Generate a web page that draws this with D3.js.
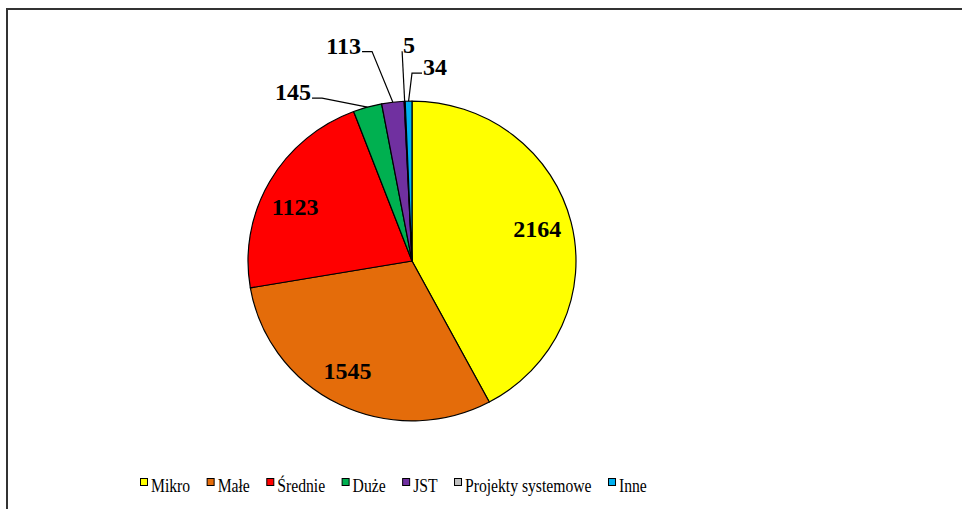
<!DOCTYPE html>
<html>
<head>
<meta charset="utf-8">
<script src="https://cdn.jsdelivr.net/npm/d3@7"></script>
<style>
    body { margin: 0; background: #fff; }
    svg { display: block; }
</style>
</head>
<body>
<div id="chart"></div>
<script>
// Data
const categories = ['Mikro', 'Małe', 'Średnie', 'Duże', 'JST', 'Projekty systemowe', 'Inne'];
const values = [2164, 1545, 1123, 145, 113, 5, 34];
const colors = ['#FFFF00', '#E46C0A', '#FF0000', '#00B050', '#7030A0', '#C0C0C0', '#00B0F0'];

// Label placement: inside labels get a small angle nudge (degrees),
// small slices get leader lines.
// elbow = [angle in degrees from 12 o'clock, radius factor], side = -1 left / 0 none / 1 right
const insideNudge = { 'Mikro': -0.7, 'Małe': 3.8, 'Średnie': -4.2 };
const outsideLabels = {
    'Duże': { elbow: [-28.9, 1.135], side: -1 },
    'JST': { elbow: [-10.8, 1.30], side: -1 },
    'Projekty systemowe': { elbow: [-2.7, 1.28], side: 0 },
    'Inne': { elbow: [0, 1.146], side: 1 }
};

const width = 962, height = 509;
const cx = 412, cy = 261, r = 164, yScale = 0.975;
const FONT = "'Liberation Serif', 'Times New Roman', serif";

const svg = d3.select('#chart').append('svg')
    .attr('width', width)
    .attr('height', height);

// Chart frame (clipped at right and bottom in the reference)
svg.append('rect')
    .attr('x', 7).attr('y', 9)
    .attr('width', 1000).attr('height', 600)
    .attr('fill', 'none')
    .attr('stroke', '#333')
    .attr('stroke-width', 2);

const data = categories.map((c, i) => ({ name: c, value: values[i], color: colors[i] }));

const pie = d3.pie().sort(null).value(d => d.value);
const arcs = pie(data);
const arc = d3.arc().innerRadius(0).outerRadius(r);

const g = svg.append('g')
    .attr('transform', `translate(${cx},${cy}) scale(1,${yScale})`);

g.selectAll('path')
    .data(arcs)
    .join('path')
    .attr('d', arc)
    .attr('fill', d => d.data.color)
    .attr('stroke', '#000')
    .attr('stroke-width', 1.2)
    .attr('stroke-linejoin', 'round');

// Point helper (angle from top, clockwise)
const pt = (a, rad, sy) => [cx + rad * Math.sin(a), cy - rad * Math.cos(a) * sy];
const deg = Math.PI / 180;

function valueText(x, y, anchor, txt) {
    return svg.append('text')
        .attr('x', x).attr('y', y)
        .attr('text-anchor', anchor)
        .style('font-family', FONT)
        .style('font-weight', 'bold')
        .style('font-size', '24px')
        .attr('fill', '#000')
        .text(txt);
}

// Inside labels
arcs.filter(d => !outsideLabels[d.data.name]).forEach(d => {
    const mid = (d.startAngle + d.endAngle) / 2 + (insideNudge[d.data.name] || 0) * deg;
    const [x, y] = pt(mid, r * 0.79, yScale);
    valueText(x, y, 'middle', d.data.value).attr('dy', '0.35em');
});

// Outside labels with leader lines
arcs.filter(d => outsideLabels[d.data.name]).forEach(d => {
    const cfg = outsideLabels[d.data.name];
    const mid = (d.startAngle + d.endAngle) / 2;
    const start = pt(mid, r, yScale);
    const elbow = pt(cfg.elbow[0] * deg, r * cfg.elbow[1], 1);
    const end = [elbow[0] + cfg.side * 10, elbow[1]];

    svg.append('path')
        .attr('d', d3.line()([start, elbow, end]))
        .attr('fill', 'none')
        .attr('stroke', '#000')
        .attr('stroke-width', 1.2);

    valueText(end[0] + (cfg.side < 0 ? -1 : 1), end[1] + 2,
        cfg.side < 0 ? 'end' : 'start', d.data.value);
});

// Legend
const legend = svg.append('g').attr('transform', 'translate(140,0)');
const sx = 0.87;
let lx = 0;
data.forEach(d => {
    const item = legend.append('g').attr('transform', `translate(${lx},0)`);
    item.append('rect')
        .attr('x', 0.5).attr('y', 478.5)
        .attr('width', 7).attr('height', 7)
        .attr('fill', d.color)
        .attr('stroke', '#000')
        .attr('stroke-width', 1);
    const t = item.append('text')
        .attr('transform', `translate(11,492) scale(${sx},1)`)
        .style('font-family', FONT)
        .style('font-size', '18px')
        .attr('fill', '#000')
        .text(d.name);
    const w = t.node().getComputedTextLength() * sx;
    lx += 11 + w + 16.5;
});
</script>
</body>
</html>
